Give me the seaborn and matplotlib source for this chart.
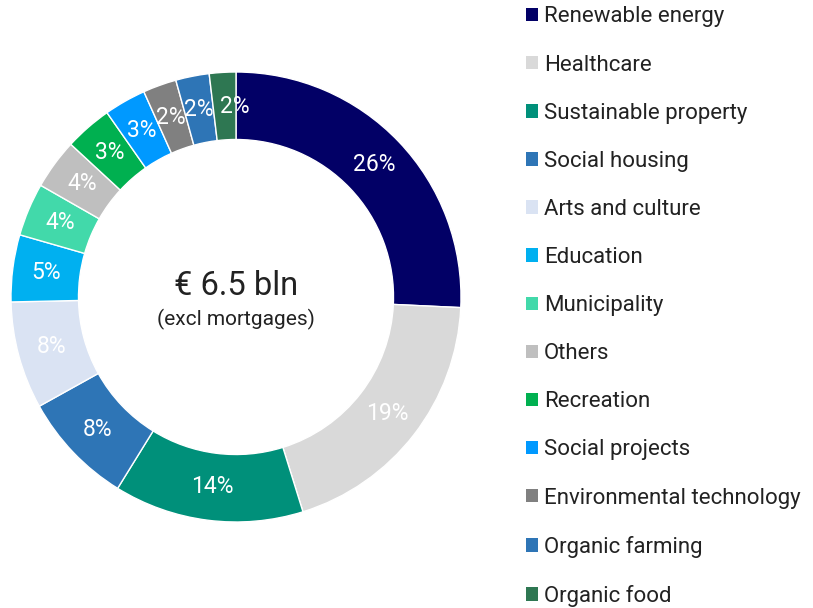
import matplotlib
matplotlib.use("Agg")
import matplotlib.pyplot as plt
from matplotlib.patches import Patch
import seaborn as sns

categories = ["Renewable energy", "Healthcare", "Sustainable property", "Social housing",
              "Arts and culture", "Education", "Municipality", "Others", "Recreation",
              "Social projects", "Environmental technology", "Organic farming", "Organic food"]
shares = [25.7, 19.4, 13.6, 8.1, 7.7, 4.8, 3.8, 3.6, 3.4, 3.0, 2.4, 2.4, 1.9]
# percentages as printed on the chart
pct_labels = [26, 19, 14, 8, 8, 5, 4, 4, 3, 3, 2, 2, 2]
colors = ["#020066", "#d9d9d9", "#00907a", "#2e75b6", "#dae3f3", "#00b0f0", "#42d9aa",
          "#bfbfbf", "#00b050", "#0099ff", "#808080", "#2e75b6", "#2e7752"]

sns.set_theme(style="white")
plt.rcParams['font.family'] = ['Roboto', 'DejaVu Sans']

fig = plt.figure(figsize=(8.13, 6.08), dpi=100)
ax = fig.add_axes([11 / 813, (608 - 522) / 608, 450 / 813, 450 / 608])
wedges, texts = ax.pie(shares, colors=colors, startangle=90, counterclock=False,
                       radius=1.0, labels=[f"{v}%" for v in pct_labels], labeldistance=0.85,
                       wedgeprops=dict(width=0.30, edgecolor="white", linewidth=1.0),
                       textprops=dict(color="white", fontsize=16.5))
for t in texts:
    t.set_horizontalalignment("center")
    t.set_verticalalignment("center")
# last small label nudged right as in the reference
lx, ly = texts[-1].get_position()
texts[-1].set_position((lx + 0.045, ly))
ax.set_xlim(-1, 1)
ax.set_ylim(-1, 1)
ax.set_aspect("equal")
ax.axis("off")

ax.text(0, 0.05, "€ 6.5 bln", ha="center", va="center", fontsize=23.5, color="#222222")
ax.text(0, -0.1, "(excl mortgages)", ha="center", va="center", fontsize=15, color="#222222")

handles = [Patch(facecolor=c, edgecolor="none") for c in colors]
leg = fig.legend(handles, categories, loc="upper left", bbox_to_anchor=(517 / 813, 1.004),
                 frameon=False, fontsize=16, handlelength=0.55, handleheight=0.55,
                 handletextpad=0.27, labelspacing=1.22, borderaxespad=0.0)
for t in leg.get_texts():
    t.set_color("#222222")

fig.savefig("out.png", dpi=100, facecolor="white")
